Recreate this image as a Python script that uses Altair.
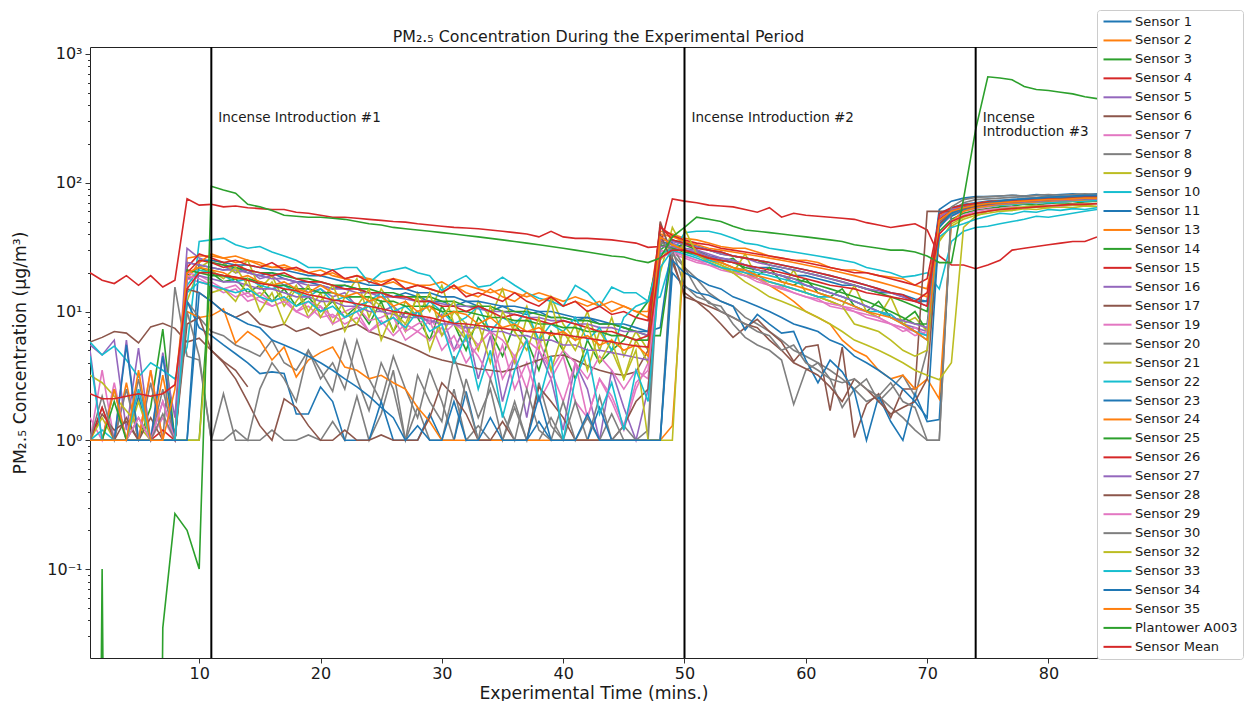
import altair as alt
import pandas as pd

# ---------------- data ----------------
time_min = list(range(1, 85))

s1 = [1, 1, 1, 1, 2.2, 1, 1, 1, 24, 23,
      22, 21, 22, 20, 19, 20, 18, 17, 17, 16, 15, 16, 15, 14, 14, 13, 14, 13, 12, 12, 11, 12, 11, 10, 11, 10, 9.5, 10, 9, 9, 8.5, 9, 8, 8, 7.5, 7, 7,
      35,
      33, 30, 29, 27, 26, 25, 23, 22, 22, 21, 19, 19, 18, 17, 16, 16, 15, 14, 14, 13, 12, 12,
      58, 64, 68, 70, 72, 73, 74, 75, 76, 76, 77, 78, 78, 79]
s2 = [1, 1, 1, 2.8, 1, 1, 3.2, 1, 26, 27,
      27, 26, 24, 25, 23, 22, 22, 21, 20, 21, 19, 18, 19, 18, 17, 18, 17, 16, 16, 17, 15, 16, 15, 14, 15, 14, 13, 14, 13, 12, 13, 12, 11, 12, 11, 10, 10,
      42,
      40, 37, 36, 34, 32, 31, 31, 29, 27, 26, 25, 25, 24, 22, 21, 21, 20, 19, 18.5, 18, 16, 15,
      50, 60, 65, 68, 70, 71, 72, 72, 73, 74, 75, 75, 76, 77]
s3 = [1, 1, 1, 1, 1, 1.8, 7.3, 1, 19, 22,
      20, 17, 18, 14, 16, 12, 15, 11, 13, 10, 12, 9, 11, 8, 12, 7, 10, 9, 6, 11, 8, 5, 9, 7, 4.5, 8, 6, 3.5, 7, 5, 3, 6, 4, 5, 6, 9, 12,
      30,
      36, 33, 30, 27, 24, 26, 21, 19, 22, 17, 16, 18, 14, 13, 15, 11, 10, 12, 9, 8.5, 10, 7,
      42, 52, 58, 61, 63, 65, 66, 68, 67, 69, 70, 69, 71, 72]
s4 = [20, 17.5, 16.5, 19, 16, 19, 15.5, 17.5, 75, 67,
      68, 65, 66, 64, 63, 62, 62, 59, 58, 56, 54, 54, 53, 52, 51, 50, 49.5, 48, 47, 46, 45, 44.5, 44, 43, 42, 41, 40, 38, 42, 38, 37, 37, 36.5, 36, 35, 34, 31.5,
      32,
      75, 72, 70, 67, 66, 65, 62, 59, 64, 54, 58, 56, 55, 54, 53, 52, 49, 47, 45, 46.5, 48, 43,
      27, 23, 23, 21.5, 23, 25, 30, 31, 32, 33, 34, 35, 35, 38]
s5 = [5.5, 4.6, 6, 1.2, 5.2, 1, 4.8, 1.5, 31, 26,
      24, 23, 20, 21, 18, 19, 16, 17, 14, 15, 13, 14, 11, 12, 10, 11, 9, 10, 8, 9.5, 5, 8, 3, 6.5, 2, 4.5, 1.5, 5, 3, 1.2, 4, 2.5, 1, 3.5, 1.8, 1, 2.5,
      38,
      34, 31, 30, 28, 26, 25, 23, 21, 20, 19, 17, 16, 15, 14, 13, 12, 11, 10, 9.5, 8, 7.5, 7,
      52, 61, 65, 67, 69, 70, 71, 72, 72, 73, 74, 75, 75, 76]
s6 = [5.8, 6.3, 7, 6.8, 5.7, 7.6, 8.1, 7.4, 5.8, 6.2,
      5.0, 4.1, 3.5, 2.6] + [None] * 70
s7 = [1, 3.5, 1, 1, 2.5, 1, 1.5, 1, 18, 17,
      16, 14, 15, 12, 13, 11, 12, 10, 11, 9, 9.5, 8, 9, 7, 8.5, 6.5, 8, 7, 6, 7.5, 5, 6, 4.5, 3, 5.5, 2.5, 4, 2, 3, 4.5, 2, 1.5, 3, 2, 1.2, 2.5, 4,
      28,
      30, 27, 25, 24, 22, 20, 21, 18, 17, 16, 15, 14, 13, 12, 11, 10.5, 10, 9, 8, 7, 7.5, 6.5,
      47, 57, 62, 64, 66, 68, 69, 70, 70, 71, 72, 72, 73, 74]
s8 = [1, 1.8, 1, 2.5, 1, 2.8, 1, 15.5, 4.5, 4.2,
      1, 2.3, 1, 1, 1, 1.2, 1, 1, 1.1, 1, 1.4, 1, 2.2, 1, 1.6, 3.5, 1, 1.8, 1, 1, 2.5, 1, 1.3, 1, 1, 2, 1, 1, 1.5, 1, 1, 1, 2.2, 1, 1, 1, 1.2,
      48,
      28, 22, 18, 14, 12, 11, 9, 8, 7, 6, 5, 4.5, 4, 3.5, 3, 2.5, 2, 2.2, 1.8, 1.5, 1.2, 1,
      1, 60, 70, 74, 75, 76, 77, 78, 77, 79, 78, 79, 80, 80]
s9 = [3.2, 2.8, 2.2, 1.7, 1.3, 1, 1, 1, 12, 22,
      25, 24, 20, 25, 15, 19, 12, 16, 10, 14, 8, 13, 18, 9, 15, 11, 7, 14, 10, 16, 8, 6, 12, 9, 15, 7, 11, 5, 13, 8, 6, 10, 5, 9, 4.5, 7, 5,
      20,
      45, 30, 28, 25, 23, 20, 28, 18, 16, 15, 21, 14, 13, 12, 11, 16, 10, 9, 13, 8, 9, 7,
      35, 48, 54, 58, 60, 62, 61, 64, 65, 64, 66, 67, 66, 68]
s10 = [5.8, 4.6, 5.4, 4.2, 3.1, 4.0, 3.5, 3.0, 5.3, 35,
       36, 37, 33, 31, 32, 29, 27, 25, 22, 22, 21, 22, 22, 16.7, 20, 21, 22, 20, 19, 14.5, 17, 19, 15.5, 16, 18.5, 16, 14, 12.7, 12, 11, 16, 14, 11, 15.5, 14, 14, 12,
       13,
       28, 41, 42, 42, 40, 37, 34, 33, 31, 30, 29, 28, 27, 26, 25, 24, 22, 21, 20, 18.5, 19, 20,
       15, 35, 42, 45, 46, 48, 50, 52, 55, 54, 56, 58, 60, 62]
s11 = [1, 1, 1, 1, 1, 1, 1, 1, 1, 25,
       25, 24, 23, 23, 22, 21, 21, 20, 19, 19, 18, 17, 17, 16, 16, 15, 15, 14, 14, 13, 13, 12, 12, 11.5, 11, 11, 10.5, 10, 10, 9.5, 9, 9, 8.5, 8, 8, 7.5, 7,
       7.5,
       36, 34, 32, 30, 29, 27, 26, 25, 24, 23, 22, 21, 20, 19, 18, 17, 16, 15, 14, 13.5, 12.5, 12,
       62, 72, 76, 78, 78, 79, 80, 79, 81, 80, 81, 82, 81, 82]
s13 = [1, 1, 1, 1, 1, 1, 1, 1, 18, 24,
       28, 26, 27, 25, 24, 22, 23, 21, 20, 19, 20, 18, 17, 18, 16, 17, 15, 16, 15, 14, 16, 14, 13, 15, 13, 12, 14, 12, 13, 11, 12, 11, 12, 10, 11, 10, 9,
       40,
       38, 35, 33, 31, 30, 29, 28, 27, 26, 25, 24, 23, 22, 21, 20, 19, 18, 17, 16, 15, 14, 13,
       55, 63, 67, 69, 71, 72, 73, 74, 75, 75, 76, 77, 77, 78]
s14 = [1, 1, 1, 1, 1, 1, 1, 1, 1, 1,
       24, 23, 22, 21, 20, 20, 19, 18, 18, 17, 16, 16, 15, 15, 14, 14, 13, 13, 13, 12, 12, 11, 11, 11, 10, 10, 10, 9.5, 9, 9, 8.5, 8.5, 8, 8, 7.5, 7, 6.5,
       6.5,
       30, 34, 32, 30, 28, 27, 26, 25, 23, 22, 21, 20, 19, 18, 17, 16, 15, 14, 13, 12, 11, 10,
       48, 60, 65, 68, 70, 71, 72, 73, 74, 75, 75, 76, 77, 77]
s15 = [1, 1, 1, 1, 1, 1, 1.2, 1, 22, 28,
       26, 24, 25, 23, 22, 24, 21, 22, 20, 19, 21, 18, 19, 17, 16, 18, 15, 16, 15, 14, 16, 13, 14, 13, 12, 14, 12, 11, 13, 11, 12, 10, 11, 9.5, 10, 9, 8.5,
       45,
       39, 36, 34, 33, 31, 30, 29, 28, 27, 26, 25, 24, 23, 22, 21, 20, 20, 19, 18, 17, 16, 18,
       52, 61, 65, 67, 69, 70, 71, 72, 72, 73, 74, 74, 75, 75]
s16 = [5, 1, 1, 6, 1, 1, 2, 1, 24, 23,
       22, 21, 21, 20, 19, 18, 18, 17, 16, 16, 15, 15, 14, 14, 13, 13, 12.5, 12, 12, 11.5, 11, 11, 10.5, 10, 10, 9.5, 9, 9, 8.5, 8.5, 8, 8, 7.5, 7.5, 7, 7, 6.5,
       36,
       35, 33, 32, 30, 28, 27, 26, 24, 23, 22, 21, 20, 19, 18, 17, 16, 15, 14.5, 14, 13, 12, 11,
       54, 62, 66, 68, 70, 71, 72, 73, 74, 74, 75, 76, 76, 77]
s17 = [1, 1.6, 1.2, 1.4, 1, 1.5, 1, 1, 15, 14,
       12, 10, 9, 10, 8, 7.5, 8, 7, 7.5, 6.5, 7, 7.5, 8, 7, 6.5, 6, 5.5, 5, 4.5, 4.2, 4, 3.8, 3.6, 3.5, 3.4, 3.6, 3.9, 4.2, 4.5, 4.6, 4.2, 3.8, 3.5, 3.3, 3.2, 3.4, 5,
       50,
       26, 13, 12, 10, 8, 6.3, 7.5, 8.7, 7, 5.8, 4.1, 5.3, 5.5, 1.7, 5.3, 1.05, 1.9, 2.3, 1.5, 2.5, 2.5, 60,
       60, 60, 62, 65, 67, 68, 70, 71, 72, 73, 74, 74, 75, 76]
s19 = [1.5, 1, 2.8, 1, 1, 3.5, 1, 1, 20, 19,
       17, 15, 16, 13, 14, 12, 13, 10, 12, 11, 9, 10, 11, 8.5, 9, 10, 7, 8, 9, 6.5, 8, 7, 5.5, 7, 6, 4.5, 6, 5, 3.5, 5, 4, 3, 4.5, 3.5, 2.5, 3.5, 3,
       30,
       28, 26, 24, 23, 21, 20, 19, 17, 16, 15.5, 14, 13, 12.5, 11, 10.5, 10, 9, 8.5, 8, 7.5, 7, 6.5,
       46, 55, 60, 63, 65, 67, 68, 69, 70, 71, 71, 72, 73, 73]
s20 = [1, 1, 2.5, 1, 1.5, 1, 2.5, 1, 12, 9,
       7, 6.5, 5.5, 5, 4.5, 6, 4, 3.5, 5, 3, 4, 2.5, 6, 3, 2, 4.5, 2.5, 1.5, 3.5, 2, 1, 3, 1.5, 2.5, 1, 1.8, 1, 2.8, 1.3, 1, 2, 1, 1, 1.6, 1, 1, 1,
       1,
       32, 22, 15, 11.6, 11, 8, 6.3, 5.5, 5, 4.2, 1.9, 3.5, 4, 3, 1.8, 2.5, 3, 2, 2.5, 3.2, 2.2, 5,
       45, 57, 63, 66, 68, 70, 71, 72, 73, 74, 75, 76, 77, 77]
s21 = [1, 1.5, 1, 1, 2, 1, 1, 1, 18, 20,
       21, 18, 22, 16, 13, 17, 11, 15, 9, 12, 16, 10, 8, 13, 11, 7, 12, 9, 14, 6.5, 10, 8, 5, 11, 7, 4, 9, 6, 12, 5, 8, 3.5, 7, 5, 3, 6, 4,
       25,
       33, 30, 28, 25, 23, 21, 19, 18, 17, 16, 15, 14, 13, 12, 11, 8, 7.5, 7, 6, 5, 4.5, 5,
       36, 46, 52, 56, 58, 60, 61, 63, 62, 64, 65, 64, 66, 65]
s22 = [1, 1.2, 1, 1, 1, 1, 1, 1, 16, 21,
       20, 19, 17, 18, 16, 15, 16, 14, 13, 15, 12, 13, 11, 12, 14, 10, 11, 9, 12, 10, 8, 9, 11, 7, 9, 8, 10, 6, 8, 7, 9, 6, 7.5, 5, 9, 11, 12,
       28,
       31, 29, 27, 25, 24, 22, 21, 20, 19, 18, 17, 16, 15, 14, 13, 12, 11, 10, 9.5, 8, 7, 6,
       47, 56, 61, 64, 66, 67, 68, 69, 70, 70, 71, 72, 72, 73]
s23 = [1, 1, 1, 5.5, 1, 1, 4.5, 1, 12, 7.5,
       6.5, 5.5, 4.7, 4, 3.3, 3.4, 3.3, 1.6, 1.6, 2.6, 2, 1, 1, 1, 2, 1, 1, 1, 1.6, 1, 1, 2.4, 1, 1, 1, 1, 1, 1.4, 1, 1, 1, 1, 1.8, 1, 1, 1, 1,
       1,
       20, 15.6, 14, 13.4, 12, 11, 7.2, 9.5, 8, 6.8, 7, 4.2, 2.8, 4.2, 3.4, 2.4, 1, 2.2, 1.4, 1, 2.3, 1.4,
       1.45, 55, 62, 66, 68, 70, 72, 73, 74, 75, 76, 77, 78, 78]
s24 = [1, 1, 2.5, 1, 1, 3.5, 1, 1, 10, 9,
       9.3, 10.5, 5.7, 7, 6, 4.2, 5.3, 3.1, 4.2, 4.8, 5.3, 3.7, 3.5, 3, 3.2, 2.8, 2.5, 1.8, 1.4, 1, 1, 1, 1, 1, 1, 1, 1, 1, 1, 1, 1, 1, 1, 1, 1, 1, 1,
       1,
       1.3, 30, 28, 26, 24, 22, 20, 18, 16, 14, 12, 10, 9, 8, 6, 5, 4.5, 3.5, 3, 3.2, 2.5, 3,
       2.1, 50, 60, 64, 66, 68, 69, 70, 71, 72, 73, 73, 74, 75]
s25 = [1, 1, 2, 1, 1, 1, 1, 1, 21, 20,
       19, 19, 18, 18, 17, 16, 16, 15, 15, 14, 14, 13, 13, 13, 12, 12, 11, 11, 11, 10, 10, 10, 9.5, 9, 9, 8.5, 8.5, 8, 8, 7.5, 7.5, 7, 7, 6.5, 6.5, 6, 6,
       33,
       31, 29, 28, 26, 25, 24, 22, 21, 20, 19, 18, 17, 16, 15, 14, 13, 12, 11, 10, 9, 8, 8,
       50, 59, 64, 67, 69, 70, 71, 72, 73, 73, 74, 75, 75, 76]
s26 = [1, 1.8, 1, 1, 1, 1, 1, 1, 20, 25,
       24, 22, 23, 21, 20, 19, 20, 18, 17, 17, 16, 15, 15, 14, 14, 13, 13, 12, 12, 11, 11, 10, 11, 10, 9, 9.5, 9, 8.5, 8, 8.5, 8, 7.5, 7, 7, 6.5, 6, 6.5,
       46,
       36, 34, 31, 30, 29, 27, 26, 25, 24, 23, 22, 21, 20, 19, 18, 17, 16, 15, 14, 13.5, 12, 11,
       57, 64, 67, 69, 71, 72, 73, 73, 74, 75, 75, 76, 77, 77]
s27 = [1, 1, 1, 1, 1, 1, 1, 1, 18, 19,
       18, 17, 17, 16, 15, 15, 14, 13, 13, 12, 12, 11, 11, 10, 10, 9.5, 9, 9, 8.5, 8, 8, 7.5, 7.5, 7, 7, 6.5, 6.5, 6, 6, 5.5, 5.5, 5, 5, 4.8, 4.6, 4.4, 4.2,
       32,
       32, 30, 29, 27, 25, 24, 23, 21, 20, 19, 18, 16, 15, 14, 13, 12, 11, 10, 9, 8.5, 8, 7.5,
       49, 58, 63, 66, 68, 69, 70, 71, 72, 73, 73, 74, 75, 75]
s28 = [1, 1, 1, 1.5, 1, 1, 1, 1, 8, 9,
       5, 4, 3, 2, 1.3, 1, 2.1, 1.8, 1.3, 1, 1, 1.2, 1, 1, 1.1, 1, 1, 1, 1.5, 2.8, 2.2, 1.6, 1, 1, 1.4, 1, 1, 2.6, 2, 1.5, 1, 1, 1, 1, 1.3, 2, 2.5,
       40,
       24, 14, 12, 11, 10, 9, 8, 7.5, 6, 5, 4, 3.6, 3.2, 2.6, 2, 3, 2.5, 2, 1.6, 1.8, 2, 3,
       48, 58, 63, 66, 68, 70, 71, 72, 73, 74, 75, 76, 76, 77]
s29 = [1, 1, 1, 1, 1.5, 1, 2, 1, 19, 18,
       16, 15, 13, 14, 12, 11, 12, 10, 9, 11, 8, 9, 10, 7, 8, 9, 6, 7, 8.5, 5, 6.5, 4, 5.5, 7, 3, 4.5, 2.5, 6, 3.5, 2, 4, 1.5, 3, 2.2, 1.3, 2.8, 3.5,
       26,
       29, 27, 25, 23, 22, 20, 19, 18, 16, 15, 14, 13, 12, 11.5, 11, 10, 9.5, 9, 8, 7.5, 6.5, 7,
       40, 50, 56, 60, 62, 63, 65, 64, 66, 67, 66, 68, 69, 68]
s30 = [1, 2.2, 1, 1, 3, 1, 1.6, 1, 10, 4.5,
       1, 1, 1.2, 1, 2.5, 4, 3, 2, 5, 3.5, 2.4, 6, 3, 1.7, 4, 2.5, 1, 3.2, 2, 1.4, 4.5, 2.2, 1, 3, 1.6, 1, 2.5, 1.2, 1, 2, 1, 1.5, 1, 1, 1.3, 1, 1,
       35,
       30, 16, 13, 12, 10, 9, 8, 7, 6.5, 5, 5.5, 4, 3.5, 3, 2.8, 3, 2.5, 2.2, 2.8, 2, 1.8, 1,
       1, 65, 74, 77, 78, 79, 80, 79, 80, 81, 80, 81, 82, 81]
s32 = [1, 1, 1, 1, 1, 1, 1, 1, 1, 1,
       14, 15, 12, 18, 10, 14, 8, 12, 16, 9, 13, 7, 11, 15, 6, 10, 8, 13, 5, 9, 12, 6, 8, 4, 10, 7, 5, 9, 3.5, 7, 5, 8, 4, 6, 3, 5, 1,
       1,
       1, 44, 28, 24, 22, 20, 17, 15, 13, 12, 11, 10, 9, 8, 7, 6, 5.5, 5, 4.5, 4, 3.5, 3.2,
       2.95, 4, 45, 55, 60, 62, 64, 65, 66, 66, 67, 68, 68, 69]
s33 = [4.5, 1, 1, 1, 2.5, 1, 1, 1, 14, 17,
       16, 15, 14, 15, 13, 12, 13, 11, 12, 10, 11, 9, 10, 11, 8, 9, 7.5, 10, 7, 8, 4, 6.5, 2.5, 5, 1.5, 3.5, 6, 2, 4.5, 1, 3, 5, 1.6, 2.8, 1.2, 3.5, 2,
       22,
       30, 28, 26, 24, 22, 21, 20, 19, 17, 16, 15, 14, 13, 13, 12, 11, 10, 10, 9, 8, 7, 6.5,
       38, 45, 48, 52, 55, 58, 57, 60, 59, 62, 61, 63, 62, 64]
s34 = [1, 1, 1, 1, 1, 1, 1, 1, 1, 14,
       12, 10, 9, 8, 7.5, 6, 5.5, 5, 4.5, 4, 3.5, 3, 2.6, 2.2, 1.8, 1.5, 1, 1.3, 1, 1, 2, 1, 1, 1.5, 1, 1, 1, 2.2, 1, 1, 1, 1.6, 1, 1, 1, 1, 1,
       1,
       25, 20, 18, 16, 15, 13, 12, 11, 10, 9, 8, 7.5, 7, 6, 5.5, 4.5, 4, 3.5, 3, 2.5, 2, 1.5,
       45, 58, 64, 67, 70, 72, 74, 75, 76, 77, 78, 79, 80, 80]
s35 = [1, 1, 1, 1, 3.5, 1, 1, 2.5, 20, 22,
       21, 20, 18, 19, 17, 16, 17, 15, 14, 16, 14, 13, 14, 12, 13, 11, 12, 10, 11, 9, 10, 9.5, 8, 9, 7.5, 8, 7, 7.5, 6.5, 7, 6, 6.5, 5.5, 6, 5, 5.5, 4.5,
       38,
       33, 30, 28, 26, 24, 22, 21, 19, 18, 17, 16, 15, 14, 13, 12, 11, 10, 9.5, 9, 8, 7, 6,
       51, 60, 64, 67, 69, 70, 71, 72, 73, 74, 74, 75, 76, 76]
plantower = [0, 0.1, 0, 0, 0, 0, 0.035, 0.27, 0.2, 0.1,
             94, 88, 83, 68, 65, 61, 56, 55, 54, 54, 53, 52, 50, 48, 47, 45, 44, 43, 42, 41, 40, 39, 38, 37, 36, 35, 34, 33, 32, 31, 30, 29, 28, 27, 26.5, 25, 24,
             26,
             38, 45, 54, 52, 50, 46, 43, 42, 41, 40, 39, 38, 37, 36, 35, 33, 32, 31, 30, 30, 29, 27,
             24, 24, 75, 260, 665, 650, 630, 560, 530, 520, 505, 490, 465, 450]
sensor_mean = [2.3, 2.1, 2.1, 2.2, 2.3, 2.2, 2.3, 2.7, 15, 20,
               20, 19, 18.5, 17.5, 16.5, 16, 15, 14.5, 13.5, 13, 12.3, 12, 11.5, 11, 10.5, 10, 9.7, 9.3, 9, 8.5, 8.1, 8, 7.8, 7.6, 7.4, 7.2, 7, 6.9, 6.8, 6.6, 6.4, 6.2, 6, 5.8, 5.6, 5.4, 5.3,
               26,
               30, 30, 28, 26, 25, 24, 23, 22, 21, 20, 19, 18, 17, 16, 15.5, 15, 14, 13.5, 13, 12.5, 12, 14,
               40, 50, 55, 58, 60, 62, 63, 64, 65, 66, 67, 68, 68, 69]

series_names = ["Sensor 1", "Sensor 2", "Sensor 3", "Sensor 4", "Sensor 5", "Sensor 6", "Sensor 7",
                "Sensor 8", "Sensor 9", "Sensor 10", "Sensor 11", "Sensor 13", "Sensor 14", "Sensor 15",
                "Sensor 16", "Sensor 17", "Sensor 19", "Sensor 20", "Sensor 21", "Sensor 22", "Sensor 23",
                "Sensor 24", "Sensor 25", "Sensor 26", "Sensor 27", "Sensor 28", "Sensor 29", "Sensor 30",
                "Sensor 32", "Sensor 33", "Sensor 34", "Sensor 35", "Plantower A003", "Sensor Mean"]
series_values = [s1, s2, s3, s4, s5, s6, s7, s8, s9, s10, s11, s13, s14, s15, s16, s17, s19, s20,
                 s21, s22, s23, s24, s25, s26, s27, s28, s29, s30, s32, s33, s34, s35, plantower, sensor_mean]

event_times = [11, 50, 74]
event_labels = ["Incense Introduction #1", "Incense Introduction #2", "Incense\nIntroduction #3"]
chart_title = "PM₂.₅ Concentration During the Experimental Period"

tab10 = ["#1f77b4", "#ff7f0e", "#2ca02c", "#d62728", "#9467bd",
         "#8c564b", "#e377c2", "#7f7f7f", "#bcbd22", "#17becf"]
series_colors = [tab10[i % 10] for i in range(len(series_names))]

# ---------------- tables ----------------
rows = []
for name, vals in zip(series_names, series_values):
    for t, v in zip(time_min, vals):
        if v is not None:
            rows.append({"time": t, "pm": v, "series": name})
df = pd.DataFrame(rows)
events = pd.DataFrame({"time": event_times, "label": event_labels})
title_df = pd.DataFrame({"label": [chart_title]})

FONT = "DejaVu Sans"
W, H = 1007, 611
YMIN, YMAX = 0.0204, 1133

y_ticks = [round(m * 10.0 ** e, 6) for e in range(-2, 4) for m in range(1, 10)]
y_ticks = [v for v in y_ticks if YMIN <= v <= YMAX]
is_major = "abs(log(datum.value)/LN10 - round(log(datum.value)/LN10)) < 0.001"
y_label_expr = ("abs(log(datum.value)/LN10 - round(log(datum.value)/LN10)) > 0.001 ? '' : "
                "['10⁻²','10⁻¹','10⁰','10¹','10²','10³'][round(log(datum.value)/LN10) + 2]")

x_enc = alt.X("time:Q",
              scale=alt.Scale(domain=[1, 84], nice=False, zero=False),
              axis=alt.Axis(title="Experimental Time (mins.)", values=[10, 20, 30, 40, 50, 60, 70, 80],
                            format="d", grid=False, domain=False, tickSize=5, tickColor="#333",
                            labelPadding=2, titlePadding=3))

lines = alt.Chart(df).transform_calculate(
    pmc="max(datum.pm, 1e-12)"
).mark_line(strokeWidth=1.6, clip=True).encode(
    x=x_enc,
    y=alt.Y("pmc:Q",
            scale=alt.Scale(type="log", domain=[YMIN, YMAX], nice=False),
            axis=alt.Axis(title="PM₂.₅ Concentration (μg/m³)", values=y_ticks, labelExpr=y_label_expr,
                          grid=False, domain=False, tickColor="#333",
                          tickSize={"condition": {"test": is_major, "value": 5}, "value": 2.5},
                          labelPadding=3, titlePadding=17)),
    color=alt.Color("series:N",
                    scale=alt.Scale(domain=series_names, range=series_colors),
                    legend=alt.Legend(title=None, orient="none", legendX=W, legendY=-37,
                                      symbolType="M-2.8,0H2.8", symbolSize=100, symbolStrokeWidth=2,
                                      symbolOffset=9, labelOffset=11, rowPadding=4.95, padding=5,
                                      labelFont=FONT, labelFontSize=13, labelColor="#1a1a1a",
                                      strokeColor="#cccccc", fillColor="white", cornerRadius=3,
                                      labelLimit=200, symbolLimit=50)),
)

rules = alt.Chart(events).mark_rule(color="black", strokeWidth=2).encode(x="time:Q")
texts = alt.Chart(events).mark_text(
    align="left", baseline="top", dx=7, font=FONT, fontSize=13.5, lineBreak="\n", lineHeight=13.5,
    color="#1a1a1a"
).encode(x="time:Q", y=alt.value(64), text="label:N")
title_mark = alt.Chart(title_df).mark_text(
    align="center", baseline="middle", font=FONT, fontSize=15.8, color="#1a1a1a"
).encode(x=alt.value(W / 2 + 5), y=alt.value(-10), text="label:N")

chart = alt.layer(lines, rules, texts, title_mark).properties(
    width=W, height=H,
    autosize=alt.AutoSizeParams(type="none"),
    padding={"left": 82, "top": 39, "right": 148, "bottom": 43},
).configure_view(stroke="#222", strokeWidth=1).configure_axis(
    labelFont=FONT, labelFontSize=16, labelColor="#1a1a1a",
    titleFont=FONT, titleFontSize=17.3, titleFontWeight="normal", titleColor="#1a1a1a"
)

chart.save("out.html", embed_options={"renderer": "svg", "actions": False})
